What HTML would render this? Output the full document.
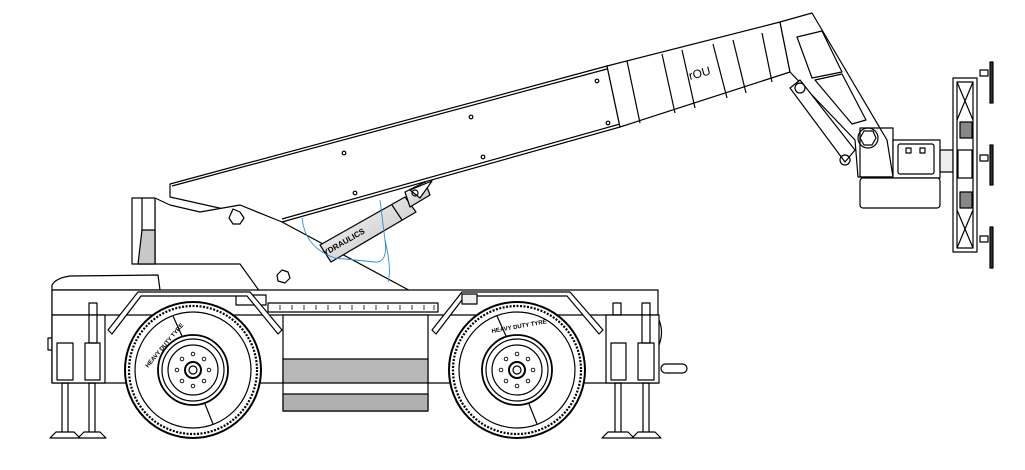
<!DOCTYPE html>
<html><head><meta charset="utf-8"><style>html,body{margin:0;padding:0;background:#fff}svg{display:block}</style></head>
<body>
<svg width="1025" height="470" viewBox="0 0 1025 470" xmlns="http://www.w3.org/2000/svg" fill="none" stroke="#000" stroke-width="1.2" stroke-linejoin="round">
<defs>
<linearGradient id="cyl" x1="0" y1="0" x2="1" y2="1"><stop offset="0" stop-color="#fff"/><stop offset="1" stop-color="#bbb"/></linearGradient>
</defs>
<!-- Boom main -->
<polygon points="170,184 607,66 620,127 282,222 170,197" fill="#fff"/>
<line x1="172" y1="186" x2="607" y2="69"/>
<line x1="282" y1="219" x2="620" y2="124"/>
<!-- boom sections -->
<polygon points="607,66 780,22 790,72 620,127" fill="#fff"/>
<line x1="627" y1="61" x2="640" y2="123"/>
<line x1="662" y1="54" x2="675" y2="113"/>
<line x1="682" y1="50" x2="695" y2="108"/>
<line x1="713" y1="44" x2="727" y2="98"/>
<line x1="733" y1="40" x2="746" y2="93"/>
<line x1="762" y1="33" x2="772" y2="82"/>
<text x="690" y="80" font-family="Liberation Sans, sans-serif" font-size="12" fill="#000" stroke="none" transform="rotate(-15 690 80)">rOU</text>
<!-- jib -->
<polygon points="780,22 812,13 887,140 893,177 858,177 855,140 790,72" fill="#fff"/>
<polygon points="797,37 822,31 842,72 812,78" />
<polygon points="815,80 842,74 866,120 852,124" />
<circle cx="868" cy="138" r="10"/><polygon points="864,131 873,131 876,138 872,145 864,145 860,138"/>
<polygon points="860,128 893,128 893,177 860,177"/>
<!-- jib cylinder -->
<polygon points="790,88 800,80 855,150 845,162" fill="#fff"/>
<circle cx="800" cy="88" r="5"/>
<circle cx="845" cy="160" r="5"/>
<!-- tool -->
<rect x="893" y="140" width="47" height="38" fill="#fff"/>
<rect x="898" y="144" width="36" height="30" rx="2"/>
<rect x="906" y="148" width="5" height="5"/><rect x="920" y="148" width="5" height="5"/>
<rect x="860" y="178" width="80" height="30" rx="3" fill="#fff"/>
<rect x="940" y="150" width="13" height="22" fill="#eee"/>
<!-- frame -->
<rect x="953" y="78" width="24" height="174" fill="#fff"/>
<rect x="957" y="82" width="16" height="166"/>
<line x1="957" y1="82" x2="973" y2="120"/><line x1="973" y1="82" x2="957" y2="120"/>
<line x1="957" y1="210" x2="973" y2="248"/><line x1="973" y1="210" x2="957" y2="248"/>
<rect x="958" y="150" width="14" height="28"/>
<rect x="960" y="122" width="12" height="16" fill="#888"/>
<rect x="960" y="192" width="12" height="16" fill="#888"/>
<rect x="990" y="62" width="3" height="41" fill="#333"/>
<rect x="990" y="145" width="3" height="40" fill="#333"/>
<rect x="990" y="227" width="3" height="41" fill="#333"/>
<rect x="980" y="70" width="8" height="6"/><rect x="980" y="155" width="8" height="6"/><rect x="980" y="236" width="8" height="6"/>
<!-- superstructure -->
<polygon points="155,198 170,205 200,212 240,205 282,222 418,295 418,303 268,303 240,264 155,264" fill="#fff"/>
<polygon points="132,198 155,198 155,264 132,264" fill="#fff"/>
<line x1="142" y1="198" x2="142" y2="264"/>
<polygon points="142,230 155,230 155,264 138,264" fill="#c8c8c8"/>
<polygon points="233,209 240,212 244,218 240,224 233,224 229,218" />
<polygon points="282,270 288,272 290,278 285,283 278,281 277,275"/>
<!-- main cylinder -->
<polygon points="320,245 405,197 416,212 331,262" fill="url(#cyl)"/>
<polygon points="405,192 425,182 430,195 410,207" fill="url(#cyl)"/>
<line x1="392" y1="205" x2="402" y2="220"/>
<text x="325" y="256" font-family="Liberation Sans, sans-serif" font-weight="bold" font-size="8" fill="#000" stroke="none" transform="rotate(-30 325 256)">YDRAULICS</text>
<path d="M302,218 Q305,248 335,258 L375,262 Q388,263 385,240 L380,200" stroke="#2a8fd0" stroke-width="0.9"/>
<path d="M385,240 Q392,270 388,282" stroke="#2a8fd0" stroke-width="0.9"/>
<polygon points="410,190 432,181 420,198" fill="#fff"/>
<circle cx="415" cy="193" r="3"/>
<!-- dots on boom -->
<g fill="#fff"><circle cx="344" cy="153" r="1.8"/><circle cx="471" cy="117" r="1.8"/><circle cx="483" cy="157" r="1.8"/><circle cx="597" cy="81" r="1.8"/><circle cx="608" cy="123" r="1.8"/><circle cx="355" cy="193" r="1.8"/></g>
<!-- chassis -->
<path d="M52,383 L52,285 Q56,278 70,276 L158,275 L160,290 L52,290" fill="#fff"/>
<rect x="52" y="290" width="606" height="93" fill="#fff"/>
<line x1="52" y1="315" x2="658" y2="315"/>
<rect x="48" y="338" width="5" height="12"/>
<!-- turntable strip -->
<rect x="268" y="303" width="170" height="9" fill="#fff"/>
<g stroke-width="0.8"><path d="M280,305v5M292,305v5M304,305v5M316,305v5M328,305v5M340,305v5M352,305v5M364,305v5M376,305v5M388,305v5M400,305v5M412,305v5M424,305v5M434,305v5"/></g>
<rect x="236" y="295" width="30" height="10"/>
<!-- center box -->
<rect x="283" y="315" width="145" height="96" fill="#fff"/>
<rect x="283" y="359" width="145" height="24" fill="#b8b8b8"/>
<rect x="283" y="394" width="145" height="17" fill="#b0b0b0"/>
<!-- fenders -->
<path d="M108,330 L138,292 L250,292 L282,330 L278,334 L247,296 L141,296 L112,334 Z" fill="#fff"/>
<path d="M432,330 L462,292 L570,292 L603,330 L599,334 L567,296 L465,296 L436,334 Z" fill="#fff"/>
<rect x="462" y="294" width="15" height="10" fill="#eee"/>
<!-- wheels -->
<g id="w" fill="#fff">
<circle cx="193" cy="370" r="68" stroke-width="2"/>
<circle cx="193" cy="370" r="64" stroke-dasharray="2 1.5" stroke-width="2.2"/>
<circle cx="193" cy="370" r="58"/>
<circle cx="193" cy="370" r="35" stroke-width="1.8"/>
<circle cx="193" cy="370" r="31"/>
<circle cx="193" cy="370" r="25"/>
<circle cx="193" cy="370" r="8" stroke-width="2"/>
<circle cx="193" cy="370" r="4"/>
<g fill="none" stroke-width="0.9"><circle cx="193" cy="354" r="1.8"/><circle cx="204" cy="359" r="1.8"/><circle cx="209" cy="370" r="1.8"/><circle cx="204" cy="381" r="1.8"/><circle cx="193" cy="386" r="1.8"/><circle cx="182" cy="381" r="1.8"/><circle cx="177" cy="370" r="1.8"/><circle cx="182" cy="359" r="1.8"/></g>
<line x1="173" y1="316" x2="182" y2="336"/><line x1="205" y1="404" x2="213" y2="424"/>
</g>
<text x="148" y="368" font-family="Liberation Sans, sans-serif" font-weight="bold" font-size="6" fill="#000" stroke="none" transform="rotate(-50 148 368)">HEAVY DUTY TYRE</text>
<use href="#w" x="324" y="0"/>
<text x="492" y="333" font-family="Liberation Sans, sans-serif" font-weight="bold" font-size="6" fill="#000" stroke="none" transform="rotate(-10 492 333)">HEAVY DUTY TYRE</text>
<!-- left outrigger -->
<rect x="52" y="315" width="53" height="68" fill="#fff"/>
<rect x="57" y="343" width="16" height="37"/>
<rect x="85" y="343" width="15" height="37"/>
<rect x="89" y="303" width="8" height="40"/>
<rect x="62" y="383" width="6" height="52"/><rect x="89" y="383" width="6" height="52"/>
<path d="M50,438 L56,432 L74,432 L80,438 Z M78,438 L84,432 L100,432 L106,438 Z" fill="#fff"/>
<!-- right outrigger -->
<rect x="606" y="315" width="53" height="68" fill="#fff"/>
<rect x="611" y="343" width="15" height="37"/>
<rect x="638" y="343" width="16" height="37"/>
<rect x="613" y="303" width="8" height="12"/><rect x="642" y="303" width="8" height="40"/>
<rect x="615" y="383" width="6" height="52"/><rect x="643" y="383" width="6" height="52"/>
<path d="M602,438 L608,432 L628,432 L634,438 Z M632,438 L638,432 L655,432 L661,438 Z" fill="#fff"/>
<rect x="661" y="364" width="26" height="9" rx="4.5" fill="#fff"/>
<path d="M659,320 Q664,332 659,345"/>
</svg>
</body></html>
